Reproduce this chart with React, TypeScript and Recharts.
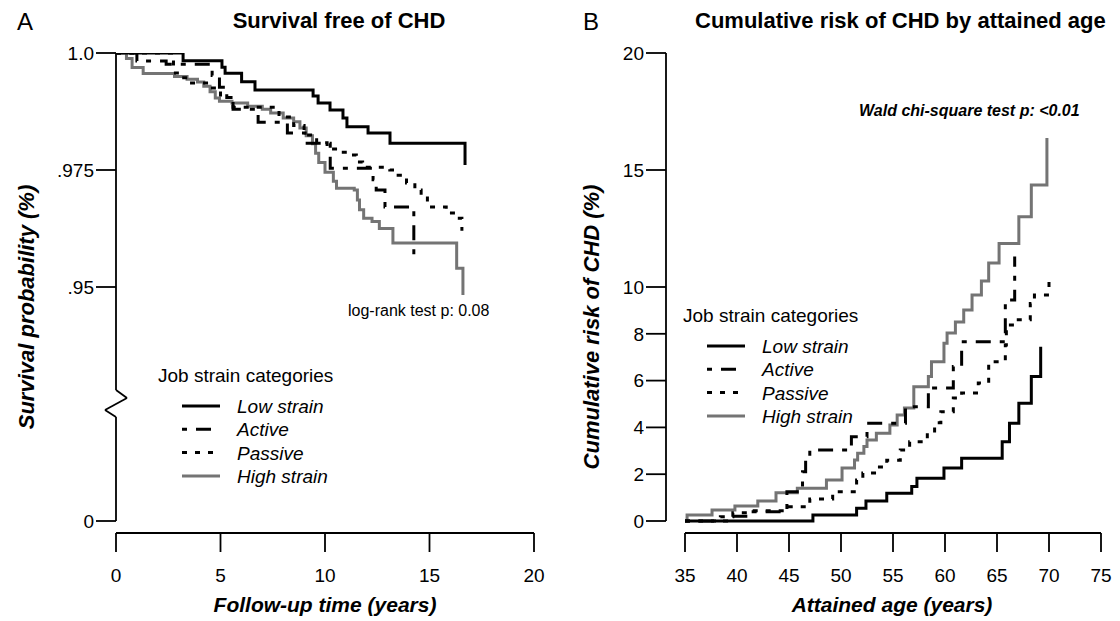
import { LineChart, Line, XAxis, YAxis, ReferenceLine } from "recharts";

const FONT = '"Liberation Sans", Arial, Helvetica, sans-serif';

const groups = ["Low strain", "Active", "Passive", "High strain"];

// Panel A: survival free of CHD, [follow-up years, survival probability]
const lowStrainA = [
  [0, 1], [3.21, 0.99835], [5.07, 0.99694], [5.22, 0.99566], [6.01, 0.99387],
  [6.65, 0.99209], [9.43, 0.99081], [9.67, 0.98932], [10.24, 0.98782],
  [10.86, 0.98611], [11.05, 0.98425], [12.06, 0.98291], [13.11, 0.98071],
  [16.7, 0.97607],
];
const activeA = [
  [0, 1], [1.0, 0.9983], [2.4, 0.9976], [4.6, 0.9952], [4.95, 0.9927],
  [5.3, 0.9905], [5.6, 0.988], [6.8, 0.9852], [8.2, 0.9829], [9.05, 0.9807],
  [10.25, 0.9754], [12.3, 0.9729], [12.45, 0.9707], [12.87, 0.9671],
  [14.25, 0.9562],
];
const passiveA = [
  [0, 1], [2.75, 0.9957], [3.05, 0.9947], [3.45, 0.9936], [4.5, 0.9925],
  [5.0, 0.9905], [5.6, 0.9884], [7.8, 0.9863], [8.5, 0.9845], [9.0, 0.9825],
  [9.6, 0.9808], [10.1, 0.9795], [10.6, 0.9788], [11.1, 0.9782], [11.5, 0.9767],
  [11.8, 0.9756], [13.1, 0.975], [13.5, 0.9739], [13.9, 0.9722], [14.3, 0.9707],
  [14.6, 0.969], [14.9, 0.9671], [15.8, 0.9658], [16.3, 0.9647], [16.55, 0.962],
];
const highStrainA = [
  [0, 1], [0.5, 0.9988], [0.77, 0.9969], [1.3, 0.9956], [2.8, 0.995],
  [3.4, 0.9944], [3.9, 0.9938], [4.2, 0.9929], [4.5, 0.9917], [4.75, 0.9904],
  [4.95, 0.9897], [5.55, 0.9893], [6.3, 0.9886], [7.0, 0.988], [7.4, 0.9872],
  [8.0, 0.9861], [8.5, 0.9853], [8.8, 0.984], [9.1, 0.9823], [9.4, 0.9806],
  [9.55, 0.9786], [9.7, 0.9766], [10.0, 0.9745], [10.4, 0.9726], [10.55, 0.9711],
  [11.4, 0.9707], [11.55, 0.9686], [11.65, 0.9665], [11.85, 0.9647],
  [12.25, 0.964], [12.6, 0.9625], [13.25, 0.9594], [16.3, 0.954], [16.6, 0.9483],
];
const followUpTicks = [0, 5, 10, 15, 20];
const survivalTicks = [0.9, 0.95, 0.975, 1.0];
const survivalTickLabels = ["0", ".95", ".975", "1.0"];

// Panel B: cumulative risk of CHD (%), [attained age, risk]
const lowStrainB = [
  [35, 0], [47.3, 0.26], [51.5, 0.55], [52.4, 0.85], [54.4, 1.19], [56.8, 1.47],
  [57.3, 1.83], [59.9, 2.26], [61.6, 2.68], [65.5, 3.39], [66.2, 4.18],
  [67.1, 5.03], [68.3, 6.17], [69.2, 7.45],
];
const activeB = [
  [35, 0], [39, 0.2], [41, 0.4], [44.8, 1.25], [46.3, 2.1], [46.6, 2.6],
  [47, 3.03], [51, 3.6], [52.5, 4.18], [56.2, 4.88], [58.4, 5.68], [60.8, 6.6],
  [61.6, 7.66], [65.8, 9.44], [66.7, 11.3],
];
const passiveB = [
  [35, 0], [38.4, 0.18], [39.6, 0.35], [41.2, 0.44], [44.6, 0.61], [47.0, 0.94],
  [49.2, 1.25], [51.5, 1.75], [52.1, 2.05], [53.5, 2.31], [54.4, 2.6],
  [55.7, 3.03], [56.6, 3.39], [58.3, 3.76], [59.0, 4.2], [59.6, 4.67],
  [60.8, 5.26], [61.6, 5.47], [63.2, 5.9], [64.2, 6.81], [65.8, 7.52],
  [65.9, 8.38], [66.9, 8.6], [68.2, 9.3], [68.6, 9.66], [70.0, 10.4],
];
const highStrainB = [
  [35, 0], [35.2, 0.26], [37.6, 0.47], [39.8, 0.64], [42, 0.85], [43.75, 1.21],
  [45.8, 1.4], [48.6, 1.75], [50.1, 2.26], [51.3, 2.61], [51.6, 2.9],
  [52.2, 3.18], [52.5, 3.46], [53.4, 3.75], [54.7, 4.1], [55.4, 4.53],
  [56.1, 4.83], [57, 5.74], [58.4, 6.17], [58.7, 6.81], [59.9, 7.6],
  [60.2, 8.03], [61.0, 8.5], [61.8, 9.02], [62.6, 9.66], [63.5, 10.26],
  [64.2, 11.03], [65.2, 11.86], [67.1, 13.0], [68.3, 14.36], [69.8, 16.37],
];
const ageTicks = [35, 40, 45, 50, 55, 60, 65, 70, 75];
const riskTicks = [0, 2, 4, 6, 8, 10, 15, 20];

const seriesA = [lowStrainA, activeA, passiveA, highStrainA];
const seriesB = [lowStrainB, activeB, passiveB, highStrainB];

const strokes = ["#000", "#000", "#000", "#747474"];
const dashes = [undefined, "5 9 15 9", "5 8", undefined];
const drawOrder = [3, 0, 1, 2];

const toRows = (pairs: number[][]) => pairs.map(([x, y]) => ({ x, y }));

const tickStyle = { fill: "#000", fontSize: 19, fontFamily: FONT };
const axisStroke = { stroke: "#000", strokeWidth: 1.8 };

// survival axis: 1.0 sits on the top edge, "0" sits 12px above the x axis
const SURV_MIN = 1 - 480 / 4680;
// age axis: the y axis stands 19px left of age 35
const AGE_MIN = 35 - 19 / 10.4;
const RISK_MIN = -12 / 23.4;

// y axis of panel A with its break
const axisA = [
  [0, 1.0], [0, 0.92799], [0.526, 0.92628], [-0.526, 0.92372], [0, 0.92222], [0, 0.9],
];

function seriesLines(series: number[][][]) {
  return drawOrder.map((i) => (
    <Line
      key={groups[i]}
      name={groups[i]}
      data={toRows(series[i])}
      dataKey="y"
      type="stepAfter"
      stroke={strokes[i]}
      strokeWidth={3}
      strokeDasharray={dashes[i]}
      dot={false}
      activeDot={false}
      isAnimationActive={false}
    />
  ));
}

function PanelA() {
  return (
    <LineChart width={560} height={621} margin={{ top: 53, right: 26, bottom: 28, left: 16 }}>
      <XAxis
        type="number"
        dataKey="x"
        domain={[0, 20]}
        ticks={followUpTicks}
        interval={0}
        allowDataOverflow
        axisLine={axisStroke}
        tickLine={axisStroke}
        tickSize={19}
        tickMargin={17}
        height={60}
        tick={tickStyle}
      />
      <YAxis
        type="number"
        domain={[SURV_MIN, 1]}
        ticks={survivalTicks}
        interval={0}
        allowDataOverflow
        tickFormatter={(v: number) => survivalTickLabels[survivalTicks.indexOf(v)]}
        axisLine={false}
        tickLine={axisStroke}
        tickSize={20}
        tickMargin={2}
        width={100}
        tick={tickStyle}
      />
      {axisA.slice(1).map((p, i) => (
        <ReferenceLine
          key={i}
          segment={[
            { x: axisA[i][0], y: axisA[i][1] },
            { x: p[0], y: p[1] },
          ]}
          stroke="#000"
          strokeWidth={1.8}
          ifOverflow="visible"
        />
      ))}
      {seriesLines(seriesA)}
    </LineChart>
  );
}

function PanelB() {
  return (
    <LineChart width={560} height={621} margin={{ top: 53, right: 19, bottom: 28, left: 16 }}>
      <XAxis
        type="number"
        dataKey="x"
        domain={[AGE_MIN, 75]}
        ticks={ageTicks}
        interval={0}
        allowDataOverflow
        axisLine={false}
        tickLine={axisStroke}
        tickSize={19}
        tickMargin={17}
        height={60}
        tick={tickStyle}
      />
      <YAxis
        type="number"
        domain={[RISK_MIN, 20]}
        ticks={riskTicks}
        interval={0}
        allowDataOverflow
        axisLine={false}
        tickLine={axisStroke}
        tickSize={20}
        tickMargin={2}
        width={90}
        tick={tickStyle}
      />
      <ReferenceLine
        segment={[{ x: 35, y: RISK_MIN }, { x: 75, y: RISK_MIN }]}
        stroke="#000"
        strokeWidth={1.8}
        ifOverflow="visible"
      />
      <ReferenceLine
        segment={[{ x: AGE_MIN, y: 0 }, { x: AGE_MIN, y: 20 }]}
        stroke="#000"
        strokeWidth={1.8}
        ifOverflow="visible"
      />
      {seriesLines(seriesB)}
    </LineChart>
  );
}

function LegendBox({ x, y }: { x: number; y: number }) {
  return (
    <g>
      <text x={x} y={y} fontSize={19}>Job strain categories</text>
      {groups.map((g, i) => {
        const ry = y + 24 + i * 23.3;
        return (
          <g key={g}>
            <line
              x1={x + 24}
              x2={x + 62}
              y1={ry}
              y2={ry}
              stroke={strokes[i]}
              strokeWidth={3}
              strokeDasharray={dashes[i]}
            />
            <text x={x + 79} y={ry + 7} fontSize={19} fontStyle="italic">{g}</text>
          </g>
        );
      })}
    </g>
  );
}

export default function App() {
  return (
    <div
      style={{
        position: "absolute",
        left: 0,
        top: 0,
        width: 1120,
        height: 621,
        background: "#fff",
        fontFamily: FONT,
        overflow: "hidden",
      }}
    >
      <div style={{ position: "absolute", left: 0, top: 0 }}>
        <PanelA />
      </div>
      <div style={{ position: "absolute", left: 560, top: 0 }}>
        <PanelB />
      </div>
      <svg
        width={1120}
        height={621}
        style={{ position: "absolute", left: 0, top: 0, pointerEvents: "none" }}
        fontFamily={FONT}
        fill="#000"
      >
        <text x={17} y={30} fontSize={24}>A</text>
        <text x={583} y={30} fontSize={24}>B</text>
        <text x={339} y={28} fontSize={22} fontWeight="bold" textAnchor="middle">
          Survival free of CHD
        </text>
        <text x={695} y={28} fontSize={22} fontWeight="bold">
          Cumulative risk of CHD by attained age
        </text>
        <text
          x={0}
          y={0}
          fontSize={22}
          fontWeight="bold"
          fontStyle="italic"
          textAnchor="middle"
          transform="translate(34 307) rotate(-90)"
        >
          Survival probability (%)
        </text>
        <text
          x={0}
          y={0}
          fontSize={22}
          fontWeight="bold"
          fontStyle="italic"
          textAnchor="middle"
          transform="translate(599 327) rotate(-90)"
        >
          Cumulative risk of CHD (%)
        </text>
        <text x={325} y={612} fontSize={21} fontWeight="bold" fontStyle="italic" textAnchor="middle">
          Follow-up time (years)
        </text>
        <text x={892} y={612} fontSize={21} fontWeight="bold" fontStyle="italic" textAnchor="middle">
          Attained age (years)
        </text>
        <text x={348} y={316} fontSize={16}>log-rank test p: 0.08</text>
        <text x={859} y={116} fontSize={16} fontWeight="bold" fontStyle="italic">
          Wald chi-square test p: &lt;0.01
        </text>
        <LegendBox x={158} y={382} />
        <LegendBox x={683} y={322} />
      </svg>
    </div>
  );
}
